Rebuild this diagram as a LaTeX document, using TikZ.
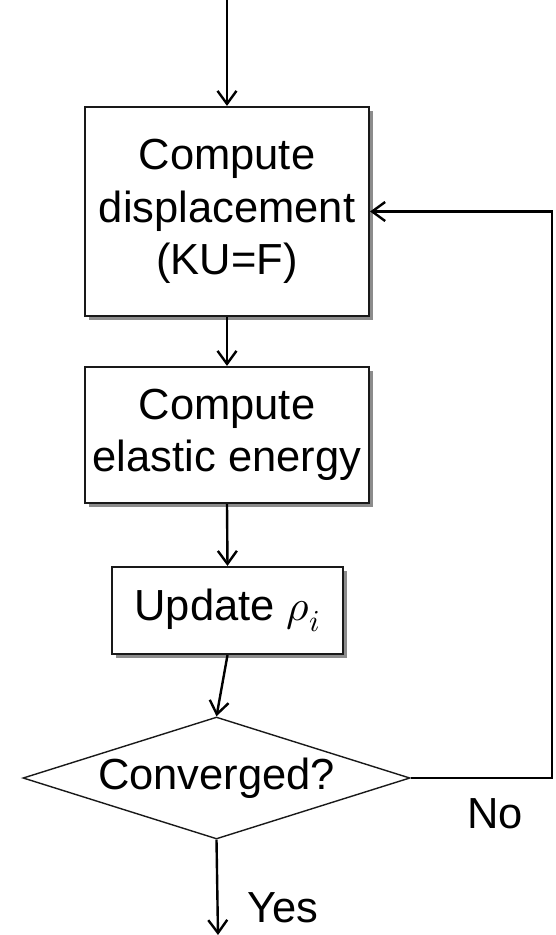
\documentclass[tikz,border=0pt]{standalone}
\usepackage{unicode-math}
\setmainfont{Liberation Sans}
\setmathfont{Latin Modern Math}
\usetikzlibrary{arrows.meta,shapes.geometric,shadows}
\begin{document}
\begin{tikzpicture}[x=1pt,y=-1pt,
  every node/.style={font=\fontsize{43.5}{52.5}\selectfont},
  stepbox/.style={draw=black!90, line width=2.2pt, fill=white, align=center, inner sep=0pt,
    drop shadow={shadow xshift=3.5pt, shadow yshift=-3.5pt, fill=black!60, opacity=0.75}},
  flow/.style={line width=2.4pt, -{Straight Barb[length=13pt,width=19pt,line width=2.4pt]}},
  lbl/.style={anchor=base west, inner sep=0pt}]
\useasboundingbox (0,0) rectangle (556,935);
\coordinate (start) at (227,0);
\node[stepbox, minimum width=284, minimum height=209] (disp) at (227,211.5)
  {Compute\\displacement\\(KU=F)};
\node[stepbox, minimum width=284, minimum height=136] (energy) at (227,435)
  {Compute\\elastic energy};
\node[stepbox, minimum width=231, minimum height=87] (update) at (227.5,610.5)
  {Update $\rho_i$};
\node[diamond, draw=black!90, line width=1.4pt, inner sep=0pt, minimum width=387, minimum height=122] (conv) at (216.5,778) {};
\node[inner sep=0pt] (convtext) at (216.5,778) {Converged?};
\coordinate (stop) at (218,935);
\coordinate (cornerlow) at (552,778);
\coordinate (cornerhigh) at (552,211.5);
\draw[flow] (start) -- (disp.north);
\draw[flow] (disp.south) -- (energy.north);
\draw[flow] (energy.south) -- (update.north);
\draw[flow] (update.south) -- (conv.north);
\draw[flow] (conv.south) -- (stop);
\draw[flow] (conv.east) -- (cornerlow) -- (cornerhigh) -- (disp.east);
\node[lbl] (yes) at (247,922) {Yes};
\node[lbl] (no) at (467,828) {No};
\end{tikzpicture}
\end{document}
